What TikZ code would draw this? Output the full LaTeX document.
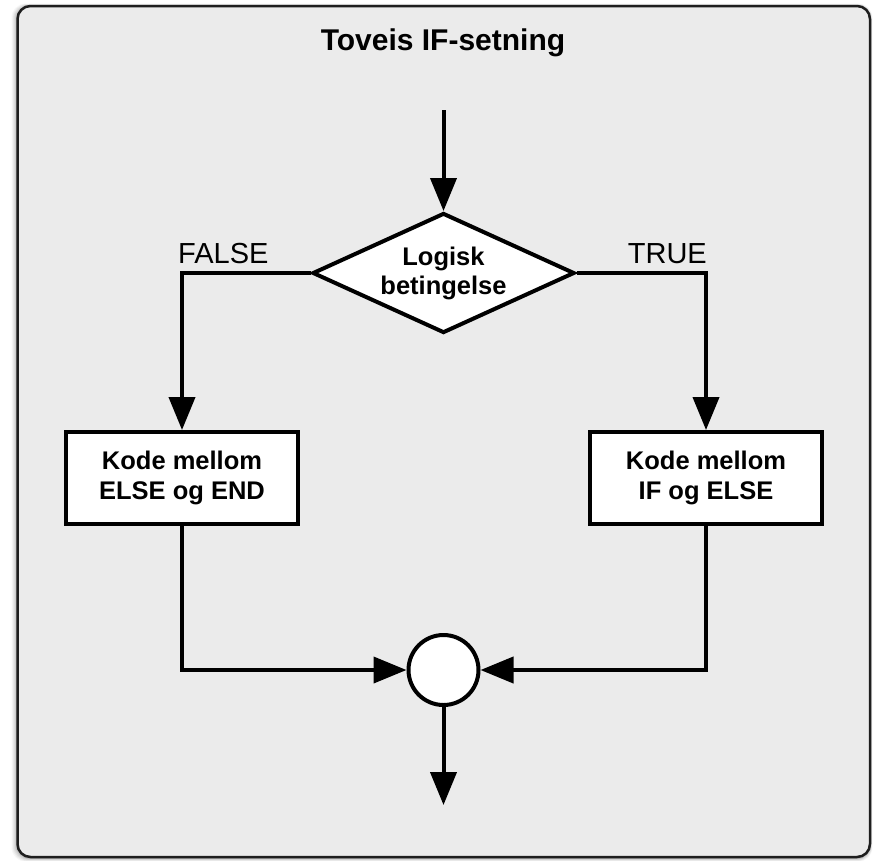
\documentclass[tikz,border=0pt]{standalone}
\usepackage{fontspec}
\setmainfont{Liberation Sans}
\usetikzlibrary{arrows.meta,shapes.geometric}
\definecolor{panelbg}{HTML}{EBEBEB}
\definecolor{panelline}{HTML}{1E1E1E}
\begin{document}
\begin{tikzpicture}[x=1pt,y=-1pt,
  flow/.style={line width=4pt,-{Triangle[length=33pt,width=26pt]}},
  plain/.style={line width=4pt},
  boxnode/.style={draw,line width=4pt,fill=white,minimum width=232pt,minimum height=92pt,inner sep=0pt,align=center,font=\fontsize{25.5}{30}\selectfont\bfseries},
  decision/.style={diamond,draw,line width=4pt,fill=white,minimum width=262pt,minimum height=120pt,inner sep=0pt,aspect=2.18,align=center,font=\fontsize{25.5}{29}\selectfont\bfseries},
  joinnode/.style={circle,draw,line width=4pt,fill=white,minimum size=70pt,inner sep=0pt},
  lbl/.style={font=\fontsize{29}{34}\selectfont,inner sep=0pt}
]
\useasboundingbox (0,0) rectangle (877,860);
% soft shadow
\foreach \k/\o in {6/0.03,5/0.04,4/0.05,3/0.06,2/0.08,1/0.10}{
  \fill[black,opacity=\o,rounded corners=14pt] (17.5-\k,6-0.4*\k) rectangle (870+0.4*\k,858+0.6*\k);
}
\draw[fill=panelbg,draw=panelline,line width=2.5pt,rounded corners=13pt] (17.5,6) rectangle (870,857);

\node[font=\fontsize{30}{36}\selectfont\bfseries,anchor=base] (title) at (443,50) {Toveis IF-setning};

\coordinate (start) at (443.5,110);
\node[decision] (dia) at (443.5,273) {Logisk\\betingelse};
\node[boxnode] (boxL) at (182,478) {Kode mellom\\ELSE og END};
\node[boxnode] (boxR) at (706,478) {Kode mellom\\IF og ELSE};
\node[joinnode] (circ) at (443.5,670) {};
\coordinate (stop) at (443.5,805);

\node[lbl,anchor=base west] (flab) at (178,263) {FALSE};
\node[lbl,anchor=base east] (tlab) at (707,263) {TRUE};

\draw[flow] (start) -- (dia.north);
\draw[flow] (dia.west) -| (boxL.north);
\draw[flow] (dia.east) -| (boxR.north);
\draw[flow] (boxL.south) |- (circ.west);
\draw[flow] (boxR.south) |- (circ.east);
\draw[flow] (circ.south) -- (stop);
\end{tikzpicture}
\end{document}
